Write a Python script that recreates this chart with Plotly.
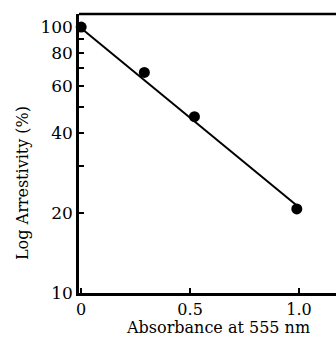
import plotly.graph_objects as go

absorbance = [0.0, 0.29, 0.52, 0.99]
arrestivity = [100, 67.5, 46, 20.7]
fit_x = [0.0, 1.0]
fit_y = [99, 21]
y_tickvals = [10, 20, 30, 40, 50, 60, 70, 80, 90, 100]
y_ticktext = ["10", "20", "", "40", "", "60", "", "80", "", "100"]
x_tickvals = [0, 0.5, 1.0]
x_ticktext = ["0", "0.5", "1.0"]

fig = go.Figure()
fig.add_trace(go.Scatter(x=fit_x, y=fit_y, mode="lines",
                         line=dict(color="black", width=2), showlegend=False))
fig.add_trace(go.Scatter(x=absorbance, y=arrestivity, mode="markers",
                         marker=dict(color="black", size=11), showlegend=False, cliponaxis=False))

tick_font = dict(family="DejaVu Serif", size=17, color="black")
xtick_font = dict(family="DejaVu Serif", size=16, color="black")
xt_font = dict(family="DejaVu Serif", size=16, color="black")
yt_font = dict(family="DejaVu Serif", size=16, color="black")
fig.update_layout(
    width=336, height=343,
    margin=dict(l=79, r=0, t=14, b=50),
    paper_bgcolor="white", plot_bgcolor="white",
    font=tick_font,
    xaxis=dict(range=[-0.01, 1.17], tickvals=x_tickvals, ticktext=x_ticktext,
               ticks="inside", ticklen=5, tickwidth=2, tickcolor="black",
               showline=True, linewidth=2.5, linecolor="black", showgrid=False,
               zeroline=False, automargin=False, ticklabelstandoff=0, tickfont=xtick_font),
    yaxis=dict(type="log", range=[1, 2.049], tickvals=y_tickvals, ticktext=y_ticktext,
               ticks="inside", ticklen=5, tickwidth=2, tickcolor="black",
               showline=True, linewidth=2.5, linecolor="black", showgrid=False,
               zeroline=False, automargin=False, ticklabelstandoff=0, tickfont=tick_font),
    shapes=[dict(type="line", xref="paper", yref="paper", x0=0, x1=1, y0=1, y1=1,
                 line=dict(color="black", width=2.5))],
    annotations=[
        dict(text="Absorbance at 555 nm", xref="paper", yref="paper",
             x=(218 - 79) / 257, y=-(327 - 293) / 279, xanchor="center", yanchor="middle",
             showarrow=False, font=xt_font),
        dict(text="Log Arrestivity (%)", xref="paper", yref="paper",
             x=-(79 - 22) / 257, y=(293 - 183) / 279, xanchor="center", yanchor="middle",
             textangle=-90, showarrow=False, font=yt_font),
    ],
)
fig.write_html("out.html", post_script="document.body.style.margin='0';",
               config={"displayModeBar": False})
